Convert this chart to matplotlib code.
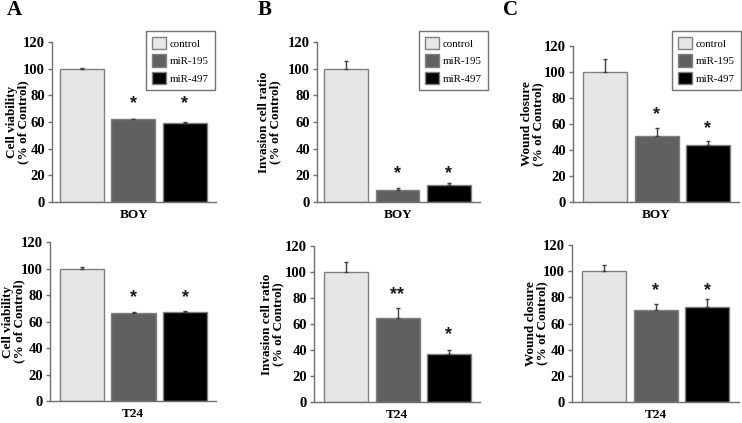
import matplotlib
matplotlib.use("Agg")
import matplotlib.pyplot as plt
from matplotlib.patches import Patch

W, H = 742, 423

groups = ["control", "miR-195", "miR-497"]
bar_colors = ["#e6e6e6", "#606060", "#000000"]

viab_boy = [100, 62, 59.5]
viab_boy_err = [0.5, 0.6, 0.4]
viab_t24 = [100, 66.5, 67.5]
viab_t24_err = [1.2, 0.6, 0.8]
inv_boy = [100, 9, 13]
inv_boy_err = [5.5, 1.5, 1.2]
inv_t24 = [100, 65, 37]
inv_t24_err = [7.5, 7, 3.2]
wound_boy = [100, 51, 43.5]
wound_boy_err = [10, 6, 3.5]
wound_t24 = [100, 70, 72.5]
wound_t24_err = [4.5, 4.8, 6]

viab_boy_sig = ["", "*", "*"]
viab_boy_sig_y = [0, 76.5, 76.5]
viab_t24_sig = ["", "*", "*"]
viab_t24_sig_y = [0, 80.7, 80.7]
inv_boy_sig = ["", "*", "*"]
inv_boy_sig_y = [0, 24, 24]
inv_t24_sig = ["", "**", "*"]
inv_t24_sig_y = [0, 85, 54.6]
wound_boy_sig = ["", "*", "*"]
wound_boy_sig_y = [0, 70, 59]
wound_t24_sig = ["", "*", "*"]
wound_t24_sig_y = [0, 88, 88]

yticks = [0, 20, 40, 60, 80, 100, 120]
panel_letters = ["A", "B", "C"]
cell_lines = ["BOY", "T24"]
ylabels = ["Cell viability\n(% of Control)",
           "Invasion cell ratio\n(% of Control)",
           "Wound closure\n(% of Control)"]

SERIF = ["Liberation Serif", "DejaVu Serif"]

fig = plt.figure(figsize=(W / 100, H / 100), dpi=100)

# pixel layout: (x_axis_left, x_axis_right, y_top(120), y_bottom(0), first bar center)
layouts = {
    (0, 0): (52, 216, 42, 202, 82),
    (0, 1): (317, 480, 42, 202, 346),
    (0, 2): (573, 739, 46, 202, 605),
    (1, 0): (50, 216, 242, 401, 82),
    (1, 1): (314, 480, 246, 402, 346),
    (1, 2): (572, 739, 245, 402, 604),
}
ylabel_x = {(0, 0): 18, (0, 1): 270, (0, 2): 533,
            (1, 0): 14, (1, 1): 273, (1, 2): 537}

data = {
    (0, 0): (viab_boy, viab_boy_err, viab_boy_sig, viab_boy_sig_y),
    (1, 0): (viab_t24, viab_t24_err, viab_t24_sig, viab_t24_sig_y),
    (0, 1): (inv_boy, inv_boy_err, inv_boy_sig, inv_boy_sig_y),
    (1, 1): (inv_t24, inv_t24_err, inv_t24_sig, inv_t24_sig_y),
    (0, 2): (wound_boy, wound_boy_err, wound_boy_sig, wound_boy_sig_y),
    (1, 2): (wound_t24, wound_t24_err, wound_t24_sig, wound_t24_sig_y),
}

spacing = 51.5
bw = 44 / spacing
x = list(range(len(groups)))

for (r, c), (vals, errs, sig, sigy) in data.items():
    xl, xr, yt, yb, xc0 = layouts[(r, c)]
    ax = fig.add_axes([xl / W, 1 - yb / H, (xr - xl) / W, (yb - yt) / H])
    ax.bar(x, vals, width=bw, color=bar_colors, edgecolor="#808080", linewidth=1.0, zorder=2)
    ax.errorbar(x, vals, yerr=[[0] * len(errs), errs], fmt="none", ecolor="#404040",
                elinewidth=1.0, capsize=1.5, capthick=1.0, zorder=3)
    for xi, s, sy in zip(x, sig, sigy):
        if s:
            ax.annotate(s, (xi, sy), xytext=(0, -2.5), textcoords="offset points",
                        ha="center", va="center", fontsize=13, fontweight="bold",
                        family=["Liberation Sans", "DejaVu Sans"], color="#1a1a1a")
    ax.set_ylim(0, 120)
    ax.set_xlim((xl - xc0) / spacing, (xr - xc0) / spacing)
    ax.set_yticks(yticks)
    ax.set_yticklabels([str(t) for t in yticks], family=SERIF, fontweight="bold", fontsize=10.5)
    ax.set_xticks([])
    for sp in ["top", "right"]:
        ax.spines[sp].set_visible(False)
    for sp in ["left", "bottom"]:
        ax.spines[sp].set_color("#707070")
        ax.spines[sp].set_linewidth(1.0)
    ax.tick_params(axis="y", length=3, width=1, color="#707070", pad=2)
    ax.set_xlabel(cell_lines[r], family=SERIF, fontweight="bold", fontsize=9.5, labelpad=5)
    fig.text(ylabel_x[(r, c)] / W, 1 - ((yt + yb) / 2) / H, ylabels[c], rotation=90,
             ha="center", va="center", family=SERIF, fontweight="bold", fontsize=9.5,
             linespacing=0.95)
    if r == 0:
        handles = [Patch(facecolor=bar_colors[i], edgecolor="#808080", linewidth=1.0, label=g)
                   for i, g in enumerate(groups)]
        leg_right = {0: 215, 1: 488, 2: 741}[c]
        leg = fig.legend(handles=handles, loc="upper right",
                         bbox_to_anchor=(leg_right / W, 1 - 31 / H),
                         prop={"family": SERIF, "size": 7.8}, frameon=True, fancybox=False,
                         edgecolor="#505050", handlelength=1.3, handleheight=1.4,
                         labelspacing=0.45, borderpad=0.55, handletextpad=0.35,
                         borderaxespad=0)
        leg.get_frame().set_linewidth(1.0)
        fig.text(({0: 7, 1: 258, 2: 503}[c]) / W, 1 - 10 / H, panel_letters[c],
                 family=SERIF, fontweight="bold", fontsize=15, ha="left", va="center")

fig.savefig("out.png", dpi=100)
